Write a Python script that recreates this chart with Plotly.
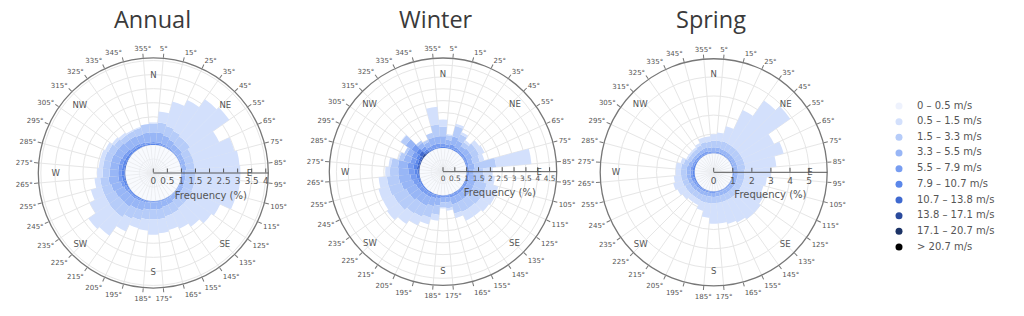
import plotly.graph_objects as go

# ---------------- data ----------------
DIRECTIONS = [0, 10, 20, 30, 40, 50, 60, 70, 80, 90, 100, 110, 120, 130, 140, 150, 160, 170,
              180, 190, 200, 210, 220, 230, 240, 250, 260, 270, 280, 290, 300, 310, 320, 330, 340, 350]

SPEED_LABELS = ["0 – 0.5 m/s", "0.5 – 1.5 m/s", "1.5 – 3.3 m/s", "3.3 – 5.5 m/s", "5.5 – 7.9 m/s",
                "7.9 – 10.7 m/s", "10.7 – 13.8 m/s", "13.8 – 17.1 m/s", "17.1 – 20.7 m/s", "> 20.7 m/s"]

SEASONS = ["Annual", "Winter", "Spring"]

DEG_TICKS = [5, 15, 25, 35, 45, 55, 65, 75, 85, 95, 105, 115, 125, 135, 145, 155, 165, 175,
             185, 195, 205, 215, 225, 235, 245, 255, 265, 275, 285, 295, 305, 315, 325, 335, 345, 355]
DEG_LABELS = ["5°", "15°", "25°", "35°", "45°", "55°", "65°", "75°", "85°", "95°", "105°", "115°",
              "125°", "135°", "145°", "155°", "165°", "175°", "185°", "195°", "205°", "215°", "225°",
              "235°", "245°", "255°", "265°", "275°", "285°", "295°", "305°", "315°", "325°", "335°",
              "345°", "355°"]
COMPASS_TICKS = [0, 45, 90, 135, 180, 225, 270, 315]
COMPASS_LABELS = ["N", "NE", "E", "SE", "S", "SW", "W", "NW"]

# Annual frequencies (%) per speed bin, per direction
annual_b0 = [1.0, 1.0, 1.0, 1.0, 1.0, 1.0, 1.0, 1.0, 1.0, 1.0, 1.0, 1.0, 1.0, 1.0, 1.0, 1.0, 1.0, 1.0,
             1.0, 1.0, 1.0, 1.0, 1.0, 1.0, 1.0, 1.0, 1.0, 1.0, 1.0, 1.0, 1.0, 1.0, 1.0, 1.0, 1.0, 1.0]
annual_b1 = [0.05, 0.40, 0.90, 1.20, 1.60, 1.70, 1.10, 1.50, 1.60, 1.60, 1.60, 1.55, 1.10, 1.00, 0.80, 0.60, 0.50, 0.50,
             0.55, 0.40, 0.30, 0.50, 0.80, 0.90, 0.60, 0.40, 0.20, 0.20, 0.15, 0.15, 0.13, 0.10, 0.10, 0.05, 0.03, 0.00]
annual_b2 = [0.30, 0.35, 0.35, 0.35, 0.35, 0.35, 0.30, 0.30, 0.30, 0.35, 0.35, 0.35, 0.35, 0.35, 0.35, 0.35, 0.35, 0.35,
             0.35, 0.35, 0.35, 0.40, 0.45, 0.45, 0.40, 0.35, 0.30, 0.25, 0.25, 0.25, 0.25, 0.20, 0.20, 0.20, 0.25, 0.30]
annual_b3 = [0.35, 0.35, 0.30, 0.25, 0.20, 0.20, 0.15, 0.15, 0.15, 0.12, 0.12, 0.12, 0.15, 0.15, 0.15, 0.20, 0.20, 0.25,
             0.25, 0.25, 0.30, 0.30, 0.35, 0.35, 0.35, 0.35, 0.35, 0.30, 0.30, 0.30, 0.30, 0.30, 0.30, 0.30, 0.30, 0.35]
annual_b4 = [0.06, 0.06, 0.05, 0.04, 0.03, 0.03, 0.03, 0.03, 0.02, 0.02, 0.02, 0.02, 0.02, 0.02, 0.02, 0.03, 0.03, 0.03,
             0.03, 0.04, 0.05, 0.06, 0.07, 0.07, 0.09, 0.11, 0.13, 0.13, 0.13, 0.13, 0.12, 0.11, 0.08, 0.08, 0.07, 0.06]
annual_b5 = [0.04, 0.04, 0.03, 0.02, 0.02, 0.02, 0.01, 0.01, 0.01, 0.01, 0.01, 0.01, 0.01, 0.01, 0.01, 0.01, 0.02, 0.02,
             0.02, 0.02, 0.03, 0.04, 0.05, 0.05, 0.05, 0.07, 0.09, 0.09, 0.09, 0.09, 0.08, 0.07, 0.06, 0.06, 0.04, 0.04]
annual_b6 = [0, 0, 0, 0, 0, 0, 0, 0, 0, 0, 0, 0, 0, 0, 0, 0, 0, 0,
             0, 0, 0, 0, 0, 0, 0.01, 0.02, 0.03, 0.03, 0.03, 0.03, 0.02, 0.02, 0.01, 0.01, 0.01, 0]
annual_b7 = [0, 0, 0, 0, 0, 0, 0, 0, 0, 0, 0, 0, 0, 0, 0, 0, 0, 0,
             0, 0, 0, 0, 0, 0, 0, 0, 0, 0, 0, 0, 0, 0, 0, 0, 0, 0]
annual_b8 = [0, 0, 0, 0, 0, 0, 0, 0, 0, 0, 0, 0, 0, 0, 0, 0, 0, 0,
             0, 0, 0, 0, 0, 0, 0, 0, 0, 0, 0, 0, 0, 0, 0, 0, 0, 0]
annual_b9 = [0, 0, 0, 0, 0, 0, 0, 0, 0, 0, 0, 0, 0, 0, 0, 0, 0, 0,
             0, 0, 0, 0, 0, 0, 0, 0, 0, 0, 0, 0, 0, 0, 0, 0, 0, 0]

# Winter
winter_b0 = [1.0, 1.0, 1.0, 1.0, 1.0, 1.0, 1.0, 1.0, 1.0, 1.0, 1.0, 1.0, 1.0, 1.0, 1.0, 1.0, 1.0, 1.0,
             1.0, 1.0, 1.0, 1.0, 1.0, 1.0, 1.0, 1.0, 1.0, 1.0, 1.0, 1.0, 1.0, 1.0, 1.0, 1.0, 1.0, 1.0]
winter_b1 = [0.30, 0.05, 0.10, 0.10, 0.10, 0.20, 0.25, 0.20, 1.50, 0.40, 0.40, 0.50, 0.50, 0.45, 0.40, 0.40, 0.20, 0.10,
             0.05, 0.25, 0.30, 0.40, 0.55, 0.60, 0.50, 0.45, 0.35, 0.20, 0.10, 0.05, 0.00, 0.02, 0.00, 0.00, 0.00, 0.75]
winter_b2 = [0.40, 0.20, 0.45, 0.30, 0.20, 0.30, 0.30, 0.30, 0.90, 0.40, 0.45, 0.50, 0.50, 0.50, 0.45, 0.45, 0.40, 0.25,
             0.20, 0.40, 0.50, 0.50, 0.55, 0.60, 0.60, 0.55, 0.50, 0.35, 0.30, 0.20, 0.10, 0.25, 0.10, 0.10, 0.20, 0.50]
winter_b3 = [0.30, 0.20, 0.35, 0.30, 0.20, 0.25, 0.25, 0.20, 0.25, 0.20, 0.25, 0.30, 0.30, 0.30, 0.30, 0.30, 0.30, 0.20,
             0.20, 0.30, 0.35, 0.40, 0.40, 0.45, 0.45, 0.50, 0.50, 0.45, 0.40, 0.30, 0.25, 0.30, 0.20, 0.20, 0.30, 0.30]
winter_b4 = [0.15, 0.10, 0.15, 0.10, 0.10, 0.10, 0.10, 0.08, 0.08, 0.08, 0.08, 0.10, 0.10, 0.10, 0.10, 0.10, 0.10, 0.08,
             0.08, 0.10, 0.12, 0.15, 0.15, 0.18, 0.20, 0.22, 0.25, 0.25, 0.25, 0.20, 0.20, 0.25, 0.15, 0.12, 0.15, 0.15]
winter_b5 = [0.05, 0.05, 0.05, 0.05, 0.03, 0.03, 0.03, 0.03, 0.02, 0.02, 0.02, 0.02, 0.03, 0.03, 0.03, 0.03, 0.03, 0.02,
             0.02, 0.03, 0.04, 0.05, 0.05, 0.06, 0.06, 0.08, 0.10, 0.12, 0.15, 0.12, 0.12, 0.15, 0.08, 0.05, 0.05, 0.05]
winter_b6 = [0, 0, 0, 0, 0, 0, 0, 0, 0, 0, 0, 0, 0, 0, 0, 0, 0, 0,
             0, 0, 0, 0, 0, 0, 0, 0.02, 0.03, 0.05, 0.08, 0.08, 0.10, 0.15, 0.05, 0.02, 0, 0]
winter_b7 = [0, 0, 0, 0, 0, 0, 0, 0, 0, 0, 0, 0, 0, 0, 0, 0, 0, 0,
             0, 0, 0, 0, 0, 0, 0, 0, 0, 0.02, 0.03, 0.03, 0.04, 0.08, 0.03, 0, 0, 0]
winter_b8 = [0, 0, 0, 0, 0, 0, 0, 0, 0, 0, 0, 0, 0, 0, 0, 0, 0, 0,
             0, 0, 0, 0, 0, 0, 0, 0, 0, 0, 0, 0, 0, 0, 0, 0, 0, 0]
winter_b9 = [0, 0, 0, 0, 0, 0, 0, 0, 0, 0, 0, 0, 0, 0, 0, 0, 0, 0,
             0, 0, 0, 0, 0, 0, 0, 0, 0, 0, 0, 0, 0, 0, 0, 0, 0, 0]

# Spring
spring_b0 = [1.0, 1.0, 1.0, 1.0, 1.0, 1.0, 1.0, 1.0, 1.0, 1.0, 1.0, 1.0, 1.0, 1.0, 1.0, 1.0, 1.0, 1.0,
             1.0, 1.0, 1.0, 1.0, 1.0, 1.0, 1.0, 1.0, 1.0, 1.0, 1.0, 1.0, 1.0, 1.0, 1.0, 1.0, 1.0, 1.0]
spring_b1 = [0.34, 0.44, 0.82, 1.93, 2.93, 3.23, 1.83, 2.13, 1.63, 1.38, 1.18, 1.08, 1.28, 1.38, 1.38, 1.28, 1.18, 1.08,
             1.06, 0.76, 0.45, 0.28, 0.28, 0.35, 0.44, 0.50, 0.38, 0.28, 0.28, 0.17, 0.09, 0.10, 0.10, 0.13, 0.26, 0.29]
spring_b2 = [0.35, 0.35, 0.40, 0.40, 0.40, 0.40, 0.40, 0.40, 0.40, 0.35, 0.35, 0.35, 0.35, 0.35, 0.35, 0.35, 0.35, 0.35,
             0.35, 0.35, 0.35, 0.30, 0.30, 0.30, 0.30, 0.30, 0.30, 0.30, 0.30, 0.25, 0.20, 0.20, 0.20, 0.25, 0.30, 0.30]
spring_b3 = [0.20, 0.20, 0.20, 0.20, 0.20, 0.20, 0.20, 0.20, 0.20, 0.20, 0.20, 0.20, 0.20, 0.20, 0.20, 0.20, 0.20, 0.20,
             0.20, 0.20, 0.20, 0.20, 0.20, 0.20, 0.20, 0.20, 0.20, 0.20, 0.20, 0.20, 0.15, 0.15, 0.15, 0.18, 0.20, 0.20]
spring_b4 = [0.08, 0.08, 0.06, 0.05, 0.05, 0.05, 0.05, 0.05, 0.05, 0.05, 0.05, 0.05, 0.05, 0.05, 0.05, 0.05, 0.05, 0.05,
             0.06, 0.06, 0.07, 0.08, 0.08, 0.10, 0.10, 0.12, 0.12, 0.12, 0.12, 0.10, 0.10, 0.10, 0.10, 0.10, 0.10, 0.08]
spring_b5 = [0.03, 0.03, 0.02, 0.02, 0.02, 0.02, 0.02, 0.02, 0.02, 0.02, 0.02, 0.02, 0.02, 0.02, 0.02, 0.02, 0.02, 0.02,
             0.03, 0.03, 0.03, 0.04, 0.04, 0.05, 0.06, 0.08, 0.10, 0.10, 0.10, 0.08, 0.06, 0.05, 0.05, 0.04, 0.04, 0.03]
spring_b6 = [0, 0, 0, 0, 0, 0, 0, 0, 0, 0, 0, 0, 0, 0, 0, 0, 0, 0,
             0, 0, 0, 0, 0, 0, 0, 0, 0, 0, 0, 0, 0, 0, 0, 0, 0, 0]
spring_b7 = [0, 0, 0, 0, 0, 0, 0, 0, 0, 0, 0, 0, 0, 0, 0, 0, 0, 0,
             0, 0, 0, 0, 0, 0, 0, 0, 0, 0, 0, 0, 0, 0, 0, 0, 0, 0]
spring_b8 = [0, 0, 0, 0, 0, 0, 0, 0, 0, 0, 0, 0, 0, 0, 0, 0, 0, 0,
             0, 0, 0, 0, 0, 0, 0, 0, 0, 0, 0, 0, 0, 0, 0, 0, 0, 0]
spring_b9 = [0, 0, 0, 0, 0, 0, 0, 0, 0, 0, 0, 0, 0, 0, 0, 0, 0, 0,
             0, 0, 0, 0, 0, 0, 0, 0, 0, 0, 0, 0, 0, 0, 0, 0, 0, 0]

RADIAL_MAX = [4.09, 4.8, 5.95]
RADIAL_DTICK = [0.5, 0.5, 1]

# ---------------- style ----------------
COLORS = ["#eef2fd", "#d3e0fc", "#b6ccf9", "#98b6f6", "#789df1",
          "#5b87ea", "#3f69d0", "#2a4a9c", "#1c3366", "#000000"]
BAR_COLORS = ["rgba(242,246,254,0.55)"] + COLORS[1:]
STACK_ORDER = [0, 9, 8, 7, 6, 5, 4, 3, 2, 1]

W, H = 1024, 316
CENTERS = [(153.3, 173.0, 115.0), (443.0, 171.7, 113.7), (713.7, 172.3, 113.5)]
TITLE_X = [152, 436, 711]
RADIAL_FONT = [8.8, 7.4, 9.0]
INNER_R = 93
TXT = "#555555"
FONT = "DejaVu Sans"

DATA = [
    [annual_b0, annual_b1, annual_b2, annual_b3, annual_b4, annual_b5, annual_b6, annual_b7, annual_b8, annual_b9],
    [winter_b0, winter_b1, winter_b2, winter_b3, winter_b4, winter_b5, winter_b6, winter_b7, winter_b8, winter_b9],
    [spring_b0, spring_b1, spring_b2, spring_b3, spring_b4, spring_b5, spring_b6, spring_b7, spring_b8, spring_b9],
]


def dom(cx, cy, r):
    return dict(x=[(cx - r) / W, (cx + r) / W], y=[(H - cy - r) / H, (H - cy + r) / H])


fig = go.Figure()
layout = {}
annotations = []

for k, season in enumerate(SEASONS):
    name = "polar" if k == 0 else f"polar{k + 1}"
    for j in STACK_ORDER:
        fig.add_trace(go.Barpolar(
            r=DATA[k][j], theta=DIRECTIONS, width=10, subplot=name,
            name=SPEED_LABELS[j], marker=dict(color=BAR_COLORS[j], line=dict(width=0)),
            showlegend=False,
        ))
    cx, cy, R = CENTERS[k]
    layout[name] = dict(
        domain=dom(cx, cy, R),
        bgcolor="white",
        bargap=0,
        angularaxis=dict(
            rotation=90, direction="clockwise",
            tickmode="array", tickvals=DEG_TICKS, ticktext=DEG_LABELS,
            ticks="outside", ticklen=4, tickcolor="#777777",
            showline=True, linecolor="#777777", linewidth=1.3,
            showgrid=True, gridcolor="#e6e6e6", gridwidth=1,
            tickfont=dict(family=FONT, size=7, color=TXT),
        ),
        radialaxis=dict(
            range=[0, RADIAL_MAX[k]], dtick=RADIAL_DTICK[k], tick0=0, angle=0, tickangle=0,
            showline=True, linecolor="#555555", linewidth=1,
            ticks="inside", ticklen=4, tickcolor="#555555",
            showgrid=True, gridcolor="#e6e6e6", gridwidth=1,
            tickfont=dict(family=FONT, size=RADIAL_FONT[k], color=TXT),
            title=dict(text="Frequency (%)", font=dict(family=FONT, size=10, color=TXT)),
        ),
    )
    # inner compass labels (overlay polar)
    iname = f"polar{k + 4}"
    fig.add_trace(go.Barpolar(r=[], theta=[], subplot=iname, showlegend=False, hoverinfo="skip"))
    layout[iname] = dict(
        domain=dom(cx, cy, INNER_R),
        bgcolor="rgba(0,0,0,0)",
        angularaxis=dict(
            rotation=90, direction="clockwise",
            tickmode="array", tickvals=COMPASS_TICKS, ticktext=COMPASS_LABELS,
            ticks="", showline=False, showgrid=False,
            tickfont=dict(family=FONT, size=8.5, color=TXT),
        ),
        radialaxis=dict(visible=False),
    )
    annotations.append(dict(
        text=season, x=TITLE_X[k] / W, y=1 - 19 / H, xref="paper", yref="paper",
        xanchor="center", yanchor="middle", showarrow=False,
        font=dict(family="Open Sans", size=23.5, color="#3a3a3a"),
    ))

# custom legend
fig.add_trace(go.Scatter(
    x=[0] * len(SPEED_LABELS), y=SPEED_LABELS, mode="markers",
    marker=dict(color=COLORS, size=7, line=dict(width=0)),
    xaxis="x", yaxis="y", showlegend=False, hoverinfo="skip", cliponaxis=False,
))
fig.add_trace(go.Scatter(
    x=[1] * len(SPEED_LABELS), y=SPEED_LABELS, mode="text", text=SPEED_LABELS,
    textposition="middle right", textfont=dict(family=FONT, size=10, color=TXT),
    xaxis="x", yaxis="y", showlegend=False, hoverinfo="skip", cliponaxis=False,
))

leg_top, leg_step = 106, 15.67
y_top_px = leg_top - leg_step / 2
y_bot_px = leg_top + leg_step * 9.5
layout["xaxis"] = dict(domain=[880 / W, 1], range=[-19 / 18, 125 / 18], visible=False, fixedrange=True)
layout["yaxis"] = dict(domain=[(H - y_bot_px) / H, (H - y_top_px) / H], type="category",
                       categoryorder="array", categoryarray=SPEED_LABELS,
                       range=[9.5, -0.5], visible=False, fixedrange=True)

fig.update_layout(
    width=W, height=H, margin=dict(l=0, r=0, t=0, b=0),
    paper_bgcolor="white", plot_bgcolor="rgba(0,0,0,0)",
    showlegend=False, annotations=annotations,
    font=dict(family=FONT, color=TXT),
    **layout,
)

fig.write_html("out.html")
